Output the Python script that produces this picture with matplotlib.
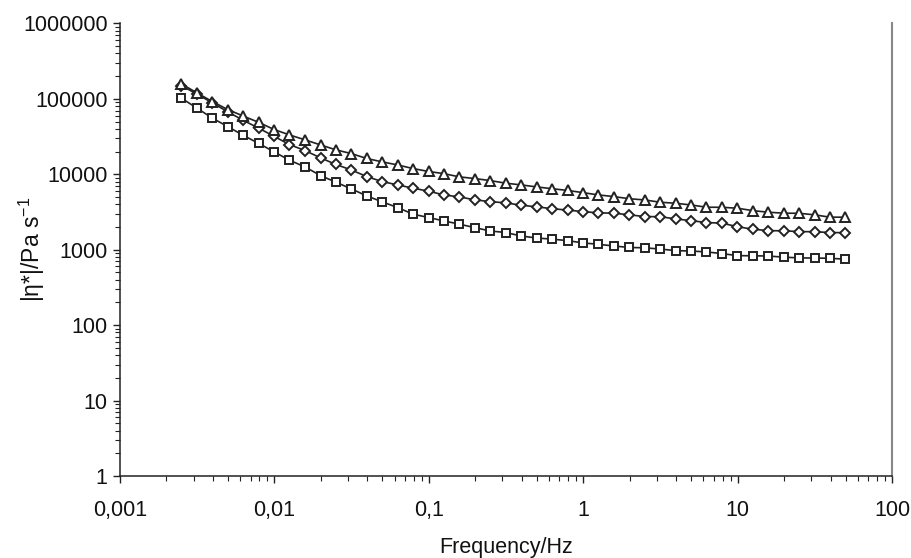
import matplotlib
matplotlib.use("Agg")
import matplotlib.pyplot as plt
from matplotlib.ticker import FixedLocator, LogLocator, NullFormatter

plt.rcParams['font.family'] = ['Liberation Sans', 'DejaVu Sans']
plt.rcParams['mathtext.fontset'] = 'custom'
plt.rcParams['mathtext.rm'] = 'Liberation Sans'
plt.rcParams['mathtext.it'] = 'Liberation Sans'

freq = [0.0025, 0.00315, 0.00396, 0.00499, 0.00628, 0.00791, 0.00996, 0.0125, 0.0158, 0.0199,
        0.025, 0.0315, 0.0396, 0.0499, 0.0628, 0.0791, 0.0996, 0.125, 0.158, 0.199,
        0.25, 0.315, 0.396, 0.499, 0.628, 0.791, 0.996, 1.25, 1.58, 1.99,
        2.5, 3.15, 3.96, 4.99, 6.28, 7.91, 9.96, 12.5, 15.8, 19.9,
        25.0, 31.5, 39.6, 49.9]

eta_triangle = [158000, 120000, 92100, 72100, 59200, 48800, 39200, 33300, 28600, 24500,
                21100, 18800, 16200, 14600, 13300, 11900, 10900, 10200, 9240, 8770,
                8250, 7620, 7230, 6800, 6440, 6110, 5710, 5330, 5060, 4740,
                4570, 4260, 4130, 3920, 3660, 3650, 3550, 3300, 3140, 3050,
                3040, 2900, 2700, 2700]

eta_diamond = [149000, 116000, 88500, 67300, 51900, 40900, 31800, 24800, 20600, 16500,
               13500, 11400, 9330, 8000, 7230, 6540, 5970, 5330, 5010, 4580,
               4340, 4180, 3890, 3700, 3500, 3350, 3200, 3080, 3050, 2900,
               2750, 2740, 2560, 2430, 2290, 2250, 2020, 1870, 1790, 1780,
               1740, 1730, 1690, 1680]

eta_square = [102000, 75400, 55500, 42900, 32800, 25700, 19800, 15400, 12500, 9610,
              7860, 6400, 5170, 4310, 3620, 2960, 2670, 2410, 2180, 1960,
              1770, 1690, 1520, 1430, 1380, 1320, 1230, 1180, 1120, 1070,
              1060, 1020, 973, 960, 935, 888, 835, 830, 825, 796,
              779, 775, 770, 748]

xticks = [0.001, 0.01, 0.1, 1, 10, 100]
xticklabels = ["0,001", "0,01", "0,1", "1", "10", "100"]
yticks = [1, 10, 100, 1000, 10000, 100000, 1000000]
yticklabels = ["1", "10", "100", "1000", "10000", "100000", "1000000"]

fig = plt.figure(figsize=(9.12, 5.58), dpi=100)
ax = fig.add_axes([0.1316, 0.147, 0.9781 - 0.1316, 0.958 - 0.147])

col = '#222222'
common = dict(color=col, lw=1.2, mfc='white', mec=col, mew=1.4)
ax.plot(freq, eta_square, marker='s', ms=6.2, **common, zorder=3)
ax.plot(freq, eta_diamond, marker='D', ms=5.4, **common, zorder=4)
ax.plot(freq, eta_triangle, marker='^', ms=7.5, **common, zorder=5)

ax.set_xscale('log')
ax.set_yscale('log')
ax.set_xlim(0.001, 100)
ax.set_ylim(1, 1000000)

ax.xaxis.set_major_locator(FixedLocator(xticks))
ax.set_xticklabels(xticklabels)
ax.yaxis.set_major_locator(FixedLocator(yticks))
ax.set_yticklabels(yticklabels)
ax.xaxis.set_minor_locator(LogLocator(base=10, subs=range(2, 10), numticks=20))
ax.yaxis.set_minor_locator(LogLocator(base=10, subs=range(2, 10), numticks=20))
ax.xaxis.set_minor_formatter(NullFormatter())
ax.yaxis.set_minor_formatter(NullFormatter())

ax.tick_params(axis='both', which='major', direction='out', length=5, width=1, color=col,
               labelsize=15.5, labelcolor='#111111')
ax.tick_params(axis='x', which='major', pad=12)
ax.tick_params(axis='y', which='major', pad=4)
ax.tick_params(axis='both', which='minor', direction='out', length=3.5, width=0.8, color=col)

ax.spines['top'].set_visible(False)
ax.spines['left'].set_color(col)
ax.spines['bottom'].set_color(col)
ax.spines['left'].set_linewidth(1.1)
ax.spines['bottom'].set_linewidth(1.1)
ax.spines['right'].set_color('#888888')
ax.spines['right'].set_linewidth(1.5)

ax.set_xlabel("Frequency/Hz", fontsize=15.5, color='#111111')
ax.xaxis.set_label_coords(0.5, -0.135)
ax.set_ylabel("|η*|/Pa s$^{\u22121}$", fontsize=16.5, color='#111111')
ax.yaxis.set_label_coords(-0.094, 0.5)

fig.savefig("out.png", dpi=100, facecolor='white')
